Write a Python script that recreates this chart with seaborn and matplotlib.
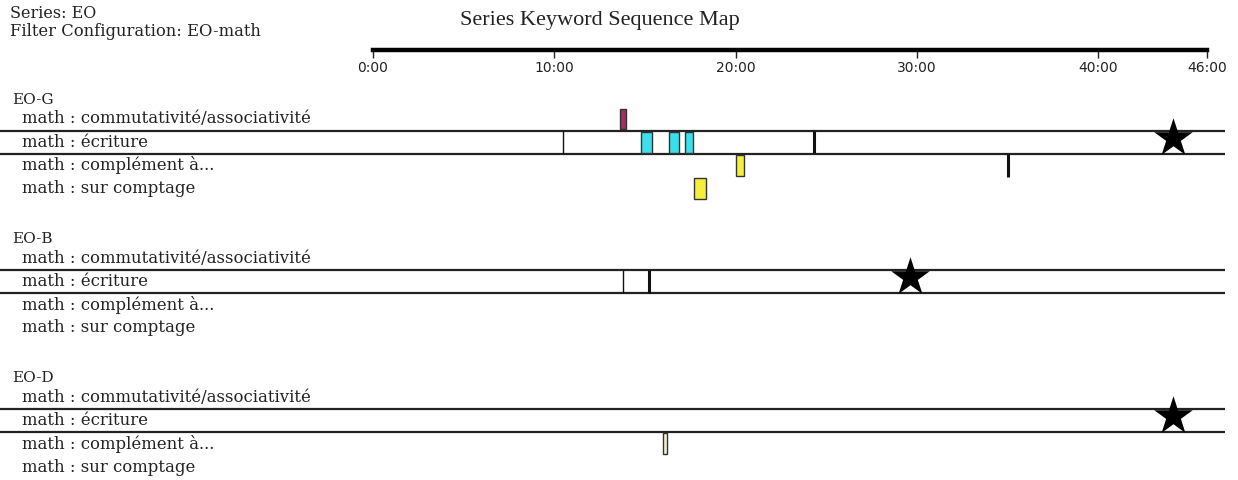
import numpy as np
import pandas as pd
import seaborn as sns
import matplotlib.pyplot as plt
from matplotlib.transforms import blended_transform_factory

# --- data (times in minutes) ---
groups = ['EO-G', 'EO-B', 'EO-D']
keywords = ['math : commutativité/associativité', 'math : écriture',
            'math : complément à...', 'math : sur comptage']

seg_group = ['EO-G', 'EO-G', 'EO-G', 'EO-G', 'EO-G', 'EO-G', 'EO-D']
seg_keyword = [0, 1, 1, 1, 2, 3, 2]
seg_start = [13.6, 14.8, 16.3, 17.2, 20.0, 17.7, 16.0]
seg_end = [13.95, 15.4, 16.9, 17.65, 20.45, 18.35, 16.2]
seg_color = ['#a3305e', '#3ce0ea', '#3ce0ea', '#3ce0ea', '#f6ee3c', '#f6ee3c', '#f3f0d4']

mark_group = ['EO-G', 'EO-G', 'EO-G', 'EO-B', 'EO-B']
mark_keyword = [1, 1, 2, 1, 1]
mark_time = [10.5, 24.3, 35.0, 13.8, 15.2]
mark_width = [1.0, 2.2, 2.2, 1.0, 2.2]

star_group = ['EO-G', 'EO-B', 'EO-D']
star_time = [44.1, 29.6, 44.1]

tick_minutes = [0, 10, 20, 30, 40, 46]
tick_labels = ['0:00', '10:00', '20:00', '30:00', '40:00', '46:00']

# layout: one row per keyword, 6 rows per group
ROWS_PER_GROUP = 6


def row_y(group, k):
    return groups.index(group) * ROWS_PER_GROUP + k


segs = pd.DataFrame({'group': seg_group, 'kw': seg_keyword,
                     'start': seg_start, 'end': seg_end, 'color': seg_color})
segs['y'] = [row_y(g, k) for g, k in zip(segs['group'], segs['kw'])]
marks = pd.DataFrame({'group': mark_group, 'kw': mark_keyword,
                      'time': mark_time, 'lw': mark_width})
marks['y'] = [row_y(g, k) for g, k in zip(marks['group'], marks['kw'])]
stars = pd.DataFrame({'group': star_group, 'time': star_time})
stars['y'] = [row_y(g, 1) - 0.2 for g in stars['group']]

sns.set_theme(style='white')
plt.rcParams['font.family'] = ['DejaVu Serif', 'Liberation Serif']

fig = plt.figure(figsize=(12.38, 4.8), dpi=100)
ax = fig.add_axes([373 / 1238, 0.0, 834 / 1238, 1 - 50 / 480])
ax.set_xlim(0, 46)
ax.set_ylim(15.56, -2.974)

for s in ['left', 'right', 'bottom']:
    ax.spines[s].set_visible(False)
ax.spines['top'].set_linewidth(3.2)
ax.spines['top'].set_color('black')
ax.set_yticks([])
ax.xaxis.set_ticks_position('top')
ax.set_xticks(tick_minutes)
ax.set_xticklabels(tick_labels, fontfamily='DejaVu Sans', fontsize=10, color='#222222')
ax.tick_params(axis='x', top=True, bottom=False, labeltop=True, labelbottom=False,
               direction='in', length=6, width=1, pad=-8, colors='#222222')
for lbl in ax.get_xticklabels():
    lbl.set_va('top')

# band lines around the "écriture" row of each group
x_left = -373 / (834 / 46)
x_right = (1225 - 373) / (834 / 46)
for g in groups:
    y = row_y(g, 1)
    ax.hlines([y - 0.5, y + 0.5], x_left, x_right, color='#222222', linewidth=1.6,
              clip_on=False, zorder=2)

# coloured segments
ax.barh(segs['y'], segs['end'] - segs['start'], left=segs['start'], height=0.9,
        color=segs['color'], edgecolor='#333333', linewidth=1.0, zorder=3)

# thin event marks
for _, m in marks.iterrows():
    ax.vlines(m['time'], m['y'] - 0.48, m['y'] + 0.48, color='#111111',
              linewidth=m['lw'], zorder=3)

# stars
sns.scatterplot(data=stars, x='time', y='y', marker='*', s=850, color='black',
                edgecolor='black', linewidth=0, ax=ax, zorder=4, legend=False)
ax.set_xlabel('')
ax.set_ylabel('')

# left-hand labels
trans = blended_transform_factory(fig.transFigure, ax.transData)
for g in groups:
    ax.text(12 / 1238, row_y(g, 0) - 0.83, g, transform=trans, fontsize=11,
            va='center', ha='left', color='#222222')
    for k, kw in enumerate(keywords):
        ax.text(22 / 1238, row_y(g, k), kw, transform=trans, fontsize=11.9,
                va='center', ha='left', color='#222222')

fig.text(10 / 1238, 1 - 13 / 480, 'Series: EO', fontsize=11.5, va='center', color='#222222')
fig.text(10 / 1238, 1 - 32 / 480, 'Filter Configuration: EO-math', fontsize=11.8,
         va='center', color='#222222')
fig.text(600 / 1238, 1 - 21 / 480, 'Series Keyword Sequence Map', fontsize=16,
         ha='center', va='center', family='Liberation Serif', color='#222222')

fig.savefig('out.png', dpi=100)
